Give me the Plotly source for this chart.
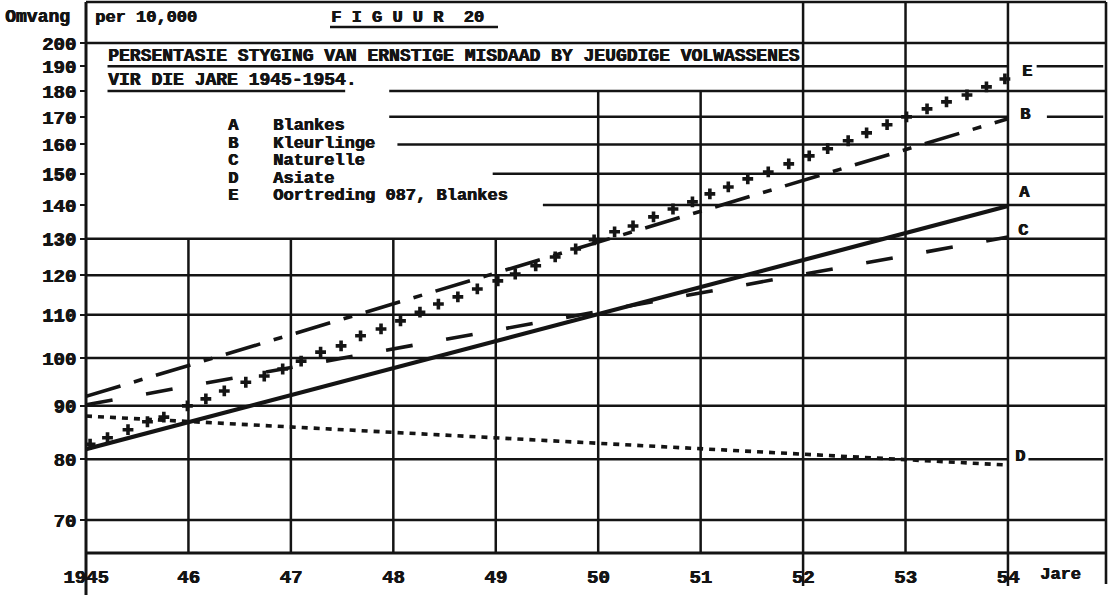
import numpy as np
import plotly.graph_objects as go

# ---------------- data ----------------
line_years = [1945, 1954]
a_blankes = [81.8, 139.7]      # A  solid
b_kleurlinge = [91.9, 169.3]   # B  long-short dash
c_naturelle = [90.2, 130.5]    # C  dashed
d_asiate = [88.0, 79.0]        # D  dotted

e_years = [1945.04, 1945.21, 1945.41, 1945.60, 1945.76, 1945.99, 1946.17, 1946.35,
           1946.56, 1946.74, 1946.92, 1947.10, 1947.29, 1947.49, 1947.68, 1947.88,
           1948.07, 1948.26, 1948.44, 1948.63, 1948.82, 1949.02, 1949.19, 1949.39,
           1949.58, 1949.78, 1949.96, 1950.16, 1950.34, 1950.54, 1950.73, 1950.92,
           1951.09, 1951.27, 1951.46, 1951.66, 1951.86, 1952.06, 1952.24, 1952.44,
           1952.62, 1952.82, 1953.01, 1953.21, 1953.40, 1953.60, 1953.79, 1953.97]
e_oortreding = [82.7, 83.9, 85.4, 86.9, 87.8, 90.0, 91.4, 93.0,
                94.8, 96.1, 97.6, 99.3, 101.3, 102.7, 105.0, 106.6,
                108.5, 110.6, 112.6, 114.4, 116.4, 118.5, 120.3, 122.5,
                124.9, 127.1, 129.7, 132.0, 133.7, 136.4, 138.8, 141.0,
                143.5, 145.7, 148.3, 150.6, 153.3, 156.0, 158.5, 161.3,
                164.1, 167.1, 170.0, 173.0, 175.7, 178.4, 181.6, 184.8]

y_tick_vals = [70, 80, 90, 100, 110, 120, 130, 140, 150, 160, 170, 180, 190, 200]
x_tick_vals = [1945, 1946, 1947, 1948, 1949, 1950, 1951, 1952, 1953, 1954]
x_tick_text = ["1945", "46", "47", "48", "49", "50", "51", "52", "53", "54"]

legend_letters = ["A", "B", "C", "D", "E"]
legend_names = ["Blankes", "Kleurlinge", "Naturelle", "Asiate", "Oortreding 087, Blankes"]

# ---------------- layout constants ----------------
W, H = 1113, 595
ML, MR, MT, MB = 86, 7, 2, 42
PW, PH = W - ML - MR, H - MT - MB
X0, X1 = 1945, 1954.957
Y0, Y1 = float(np.log10(65.1)), float(np.log10(218.9))
INK = "#141414"
FONT = "Liberation Mono"
SHADOW = "0.7px 0px 0px #141414, 0px 0.4px 0px #141414"


def px(x):
    return (x - ML) / PW


def py(y):
    return (H - MB - y) / PH


def fx(year):          # year -> paper x
    return (year - X0) / (X1 - X0)


def fy(value):         # value on the log axis -> paper y
    return (float(np.log10(value)) - Y0) / (Y1 - Y0)


fig = go.Figure()

fig.add_trace(go.Scatter(x=line_years, y=a_blankes, mode="lines",
                         line=dict(color=INK, width=4.2), hoverinfo="skip"))
fig.add_trace(go.Scatter(x=line_years, y=b_kleurlinge, mode="lines",
                         line=dict(color=INK, width=3.6, dash="36px,14px,9px,14px"),
                         hoverinfo="skip"))
fig.add_trace(go.Scatter(x=line_years, y=c_naturelle, mode="lines",
                         line=dict(color=INK, width=3.6, dash="27px,34px"),
                         hoverinfo="skip"))
fig.add_trace(go.Scatter(x=line_years, y=d_asiate, mode="lines",
                         line=dict(color=INK, width=3.6, dash="6px,6px"),
                         hoverinfo="skip"))
fig.add_trace(go.Scatter(x=e_years, y=e_oortreding, mode="markers",
                         marker=dict(symbol="cross", size=9, color=INK),
                         hoverinfo="skip"))

shapes = []
GL = dict(color=INK, width=2.5)


def seg(x0, y0, x1, y1, line=GL):
    shapes.append(dict(type="line", xref="paper", yref="paper",
                       x0=x0, y0=y0, x1=x1, y1=y1, line=line, layer="below"))


def hline(v, xa, xb):
    seg(fx(xa), fy(v), fx(xb), fy(v))


# horizontal grid (partial where text sits)
hline(200, X0, X1)
hline(190, 1945.21, 1954)
hline(190, 1954.28, 1954.93)
hline(180, 1945.21, 1947.53)
hline(180, 1947.96, X1)
hline(170, 1947.96, 1954)
hline(170, 1954.38, 1954.93)
hline(160, 1948.04, X1)
hline(150, 1948.97, X1)
hline(140, 1949.46, X1)
for v in [130, 120, 110, 100, 90, 70]:
    hline(v, X0, X1)
hline(80, X0, 1954)
hline(80, 1954.20, 1954.93)

# vertical grid
for yr in [1946, 1947, 1948, 1949]:
    seg(fx(yr), 0, fx(yr), fy(130))
for yr in [1950, 1951]:
    seg(fx(yr), 0, fx(yr), fy(180))
seg(fx(1953), 0, fx(1953), 1)
# lines that run past the frame
seg(fx(1945), py(595), fx(1945), 1, dict(color=INK, width=3))
seg(fx(1952), py(586), fx(1952), 1)
seg(fx(1954), py(586), fx(1954), 1)
# right border, top border, bottom axis
seg(1, py(584), 1, 1, dict(color=INK, width=2.6))
seg(0, 1, 1, 1, dict(color=INK, width=2.6))
seg(0, 0, 1, 0, dict(color=INK, width=3))
# underline of the figure number
seg(px(330), py(27), px(498), py(27))

ann = []


def txt(t, x, y, size=17, xanchor="left"):
    ann.append(dict(text="<b>" + t + "</b>", x=px(x), y=py(y), xref="paper", yref="paper",
                    xanchor=xanchor, yanchor="middle", showarrow=False,
                    font=dict(family=FONT, size=size, color=INK, shadow=SHADOW)))


txt("Omvang", 3, 17, 18)
txt("per 10,000", 93, 17, 17)
txt("F I G U U R  20", 329, 17, 17)
txt("PERSENTASIE STYGING VAN ERNSTIGE MISDAAD BY JEUGDIGE VOLWASSENES", 106, 56, 18)
txt("VIR DIE JARE 1945-1954.", 106, 80, 18)
leg_y = [125, 143, 160, 178, 196]
for letter, name, yy in zip(legend_letters, legend_names, leg_y):
    txt(letter, 226, yy, 17)
    txt(name, 271, yy, 17)
end_labels = [("E", 1020, 71), ("B", 1018, 115), ("A", 1017, 192), ("C", 1016, 230),
              ("D", 1013, 456)]
for t, xx, yy in end_labels:
    txt(t, xx, yy, 17)
txt("Jare", 1038, 574, 17)

tickfont = dict(family=FONT, size=19, color=INK, weight="bold", shadow=SHADOW)
fig.update_layout(
    width=W, height=H,
    margin=dict(l=ML, r=MR, t=MT, b=MB, pad=0),
    paper_bgcolor="white", plot_bgcolor="rgba(0,0,0,0)",
    showlegend=False,
    shapes=shapes, annotations=ann,
    xaxis=dict(range=[X0, X1], showgrid=False, zeroline=False, showline=False,
               tickvals=x_tick_vals, ticktext=x_tick_text, ticks="",
               tickfont=tickfont, ticklabelstandoff=10),
    yaxis=dict(type="log", range=[Y0, Y1], showgrid=False, zeroline=False, showline=False,
               tickvals=y_tick_vals, ticktext=[str(v) for v in y_tick_vals],
               ticks="outside", ticklen=5, tickwidth=2, tickcolor=INK,
               tickfont=tickfont),
)

fig.write_html("out.html", post_script="document.body.style.margin='0';",
               config={"displayModeBar": False})
